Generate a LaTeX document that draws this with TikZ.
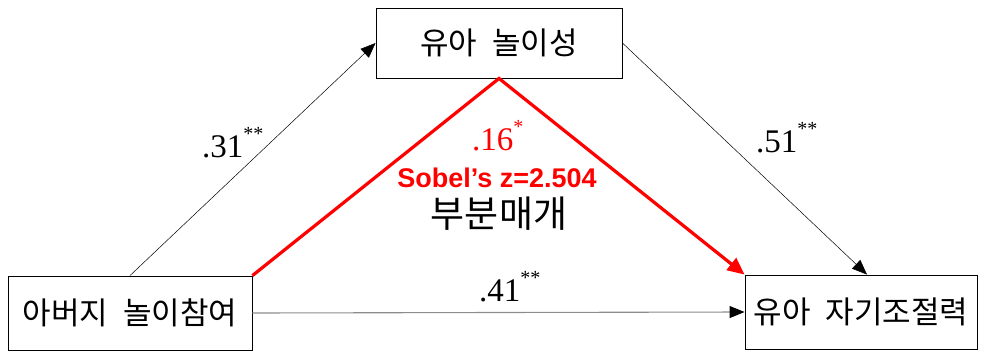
\documentclass[tikz,border=0pt]{standalone}
\usepackage{fontspec}
\usepackage{xcolor}
\usepackage{tikz}
\usetikzlibrary{arrows.meta}
\setmainfont{Liberation Serif}
\newfontfamily\kr[WordSpace=2.2]{Noto Sans CJK KR}
\newfontfamily\sobelfont{Liberation Sans}
\definecolor{ink}{HTML}{000000}
\definecolor{med}{HTML}{FF0000}
\definecolor{direct}{HTML}{8C8C8C}
\newcommand{\sig}[1]{\raisebox{0.5em}{\fontsize{20}{20}\selectfont #1}}
\tikzset{
  box/.style={draw=ink, line width=0.9pt, inner sep=0pt, font=\kr\fontsize{31}{34}\selectfont},
  path/.style={draw=ink, line width=0.5pt, -{Triangle[length=15pt,width=12pt,color=ink,fill=ink]}},
  medpath/.style={draw=med, line width=3.2pt, line join=miter, -{Triangle[length=17pt,width=15pt]}},
  num/.style={inner sep=0pt, anchor=base west, font=\fontsize{33}{36}\selectfont},
  lab/.style={inner sep=0pt, font=\kr\fontsize{37}{40}\selectfont},
}
\begin{document}
\begin{tikzpicture}[x=1pt,y=-1pt]
  \useasboundingbox (0,0) rectangle (985,351);
  % variables
  \node[box, minimum width=246pt, minimum height=70pt] (play) at (499,43) {유아 놀이성};
  \node[box, minimum width=244pt, minimum height=74pt] (father) at (130,313) {아버지 놀이참여};
  \node[box, minimum width=232pt, minimum height=74pt] (selfreg) at (861,312) {유아 자기조절력};
  % paths
  \draw[path] (father.north) -- (play.west);
  \draw[path] (play.east) -- ([xshift=6pt]selfreg.north);
  \draw[path, draw=direct, line width=1.1pt] (father.east) -- (selfreg.west);
  \draw[medpath] (father.north east) -- (play.south) -- (selfreg.north west);
  % coefficients
  \node[num] (a) at (202,157) {.31\sig{**}};
  \node[num] (b) at (756,152) {.51\sig{**}};
  \node[num] (c) at (479,301) {.41\sig{**}};
  \node[num, text=med] (ab) at (472,150) {.16\sig{*}};
  \node[inner sep=0pt, anchor=base, text=med, font=\sobelfont\bfseries\fontsize{27}{30}\selectfont] (sobel) at (497,187) {Sobel’s z=2.504};
  \node[lab] (partial) at (499,214) {부분매개};
\end{tikzpicture}
\end{document}
